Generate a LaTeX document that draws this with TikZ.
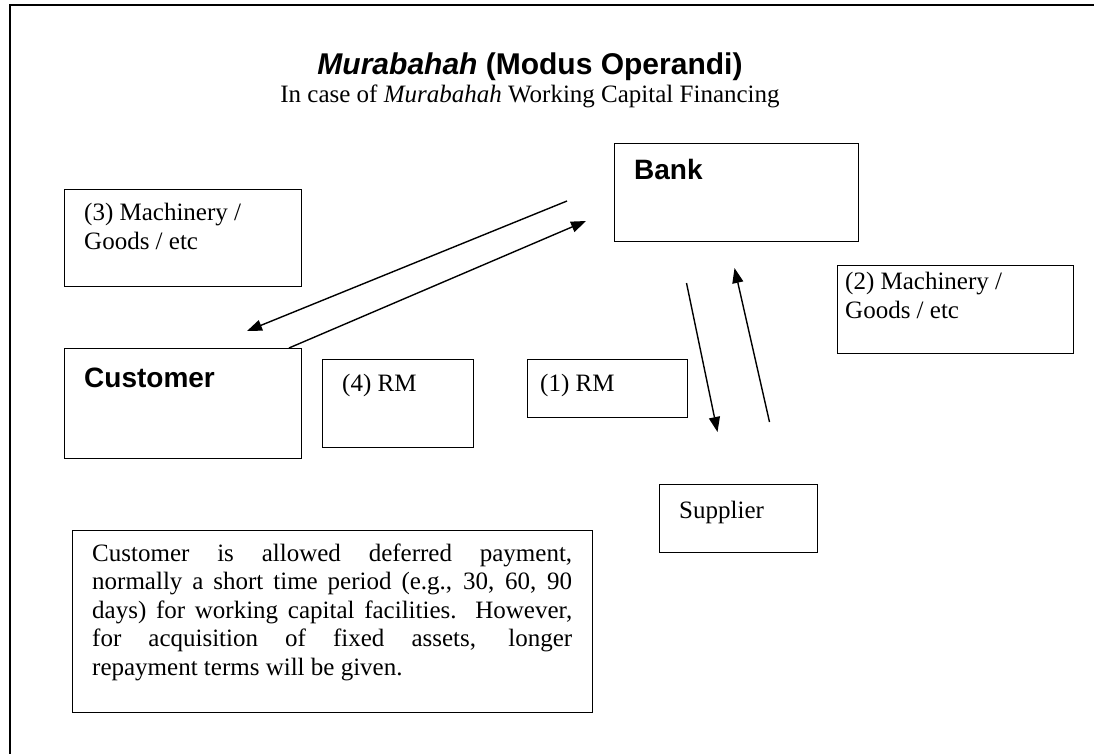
\documentclass[tikz,border=0pt]{standalone}
\usepackage{fontspec}
\setmainfont{Liberation Serif}
\newfontfamily\arialfont{Liberation Sans}
\usetikzlibrary{arrows.meta}
\begin{document}
\begin{tikzpicture}[x=1pt,y=-1pt,
  box/.style={draw, line width=1.4pt, inner sep=0pt, anchor=north west},
  txt/.style={inner sep=0pt, anchor=base west, font=\fontsize{25}{29}\selectfont, align=left},
  head/.style={inner sep=0pt, anchor=base west, font=\arialfont\bfseries\fontsize{28}{32}\selectfont},
  flow/.style={line width=1.4pt, -{Triangle[length=15pt,width=11pt]}}]
\useasboundingbox (0,0) rectangle (1094,754);
% outer frame
\coordinate (fbl) at (10,754);
\coordinate (ftl) at (10,5);
\coordinate (ftr) at (1094,5);
\draw[line width=2pt] (fbl) -- (ftl) -- (ftr);
% title
\node[inner sep=0pt, anchor=base] (title) at (530,75)
  {\arialfont\bfseries\fontsize{30}{34}\selectfont\itshape Murabahah\upshape{} (Modus Operandi)};
\node[inner sep=0pt, anchor=base, font=\fontsize{25}{28.5}\selectfont] (subtitle) at (530,103)
  {In case of \textit{Murabahah} Working Capital Financing};
% boxes
\node[box, minimum width=244pt, minimum height=98pt] (bank) at (614,143) {};
\node[head] (banktxt) at (634,180) {Bank};
\node[box, minimum width=237pt, minimum height=97pt] (goods3) at (64,189) {};
\node[txt] (goods3txt) at (84,249) {(3) Machinery /\\Goods / etc};
\node[box, minimum width=237pt, minimum height=110pt] (cust) at (64,348) {};
\node[head] (custtxt) at (84,387) {Customer};
\node[box, minimum width=151pt, minimum height=88pt] (rm4) at (322,359) {};
\node[txt] (rm4txt) at (342,391) {(4) RM};
\node[box, minimum width=160pt, minimum height=58pt] (rm1) at (527,359) {};
\node[txt] (rm1txt) at (540,391) {(1) RM};
\node[box, minimum width=236pt, minimum height=88pt] (goods2) at (837,265) {};
\node[txt] (goods2txt) at (845,318) {(2) Machinery /\\Goods / etc};
\node[box, minimum width=158pt, minimum height=68pt] (supp) at (659,484) {};
\node[txt] (supptxt) at (679,518) {Supplier};
\node[box, minimum width=520pt, minimum height=182pt] (note) at (72,530) {};
\node[inner sep=0pt, anchor=base west, font=\fontsize{25}{28.5}\selectfont,
      text width=480pt, align=justify] (notetxt) at (92,561)
  {Customer is allowed deferred payment,\linebreak
   normally a short time period (e.g., 30, 60, 90\linebreak
   days) for working capital facilities. However,\linebreak
   for acquisition of fixed assets, longer\linebreak
   repayment terms will be given.};
% connectors
\coordinate (bcS) at (567,201);
\coordinate (bcE) at (247,331);
\coordinate (cbS) at (289,348);
\coordinate (cbE) at (586,221);
\coordinate (dnS) at (686.5,283);
\coordinate (dnE) at (717.5,432);
\coordinate (upS) at (769.5,422);
\coordinate (upE) at (734.5,268);
\draw[flow] (bcS) -- (bcE);
\draw[flow] (cbS) -- (cbE);
\draw[flow] (dnS) -- (dnE);
\draw[flow] (upS) -- (upE);
\end{tikzpicture}
\end{document}
